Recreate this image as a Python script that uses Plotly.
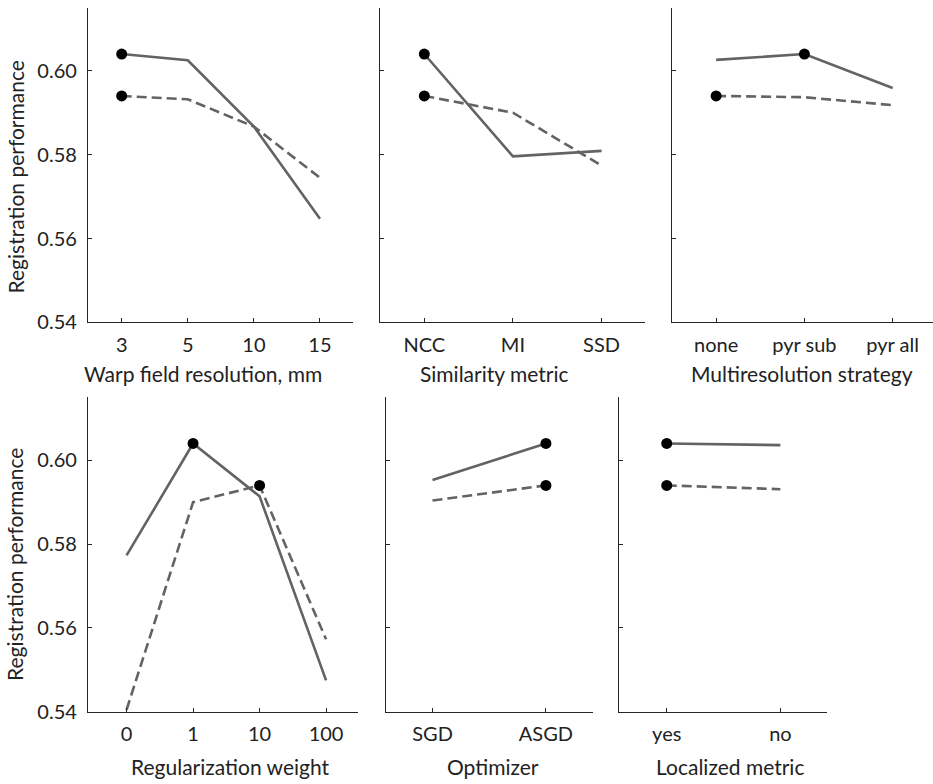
import plotly.graph_objects as go

# ---- data -------------------------------------------------------------
warp_labels = ["3", "5", "10", "15"]
warp_solid = [0.604, 0.6025, 0.5867, 0.5647]
warp_dashed = [0.594, 0.5932, 0.5867, 0.5745]

sim_labels = ["NCC", "MI", "SSD"]
sim_solid = [0.604, 0.5796, 0.5809]
sim_dashed = [0.594, 0.5900, 0.5774]

multires_labels = ["none", "pyr sub", "pyr all"]
multires_solid = [0.6026, 0.604, 0.5959]
multires_dashed = [0.594, 0.5937, 0.5918]

reg_labels = ["0", "1", "10", "100"]
reg_solid = [0.5773, 0.604, 0.5914, 0.5475]
reg_dashed = [0.5405, 0.5900, 0.594, 0.5573]

opt_labels = ["SGD", "ASGD"]
opt_solid = [0.5953, 0.604]
opt_dashed = [0.5904, 0.594]

local_labels = ["yes", "no"]
local_solid = [0.604, 0.6036]
local_dashed = [0.594, 0.5931]

x_titles = ["Warp field resolution, mm", "Similarity metric", "Multiresolution strategy",
            "Regularization weight", "Optimizer", "Localized metric"]
y_title = "Registration performance"
y_ticks = [0.54, 0.56, 0.58, 0.60]

panels = [
    (warp_labels, warp_solid, warp_dashed),
    (sim_labels, sim_solid, sim_dashed),
    (multires_labels, multires_solid, multires_dashed),
    (reg_labels, reg_solid, reg_dashed),
    (opt_labels, opt_solid, opt_dashed),
    (local_labels, local_solid, local_dashed),
]

# ---- layout geometry (pixels) ----------------------------------------
W, H = 933, 784
# (left, right, top, bottom) of each plotting area, x range,
# horizontal centre of the x title, vertical centre of the x title
boxes = [
    (88, 353, 8, 327, [-0.51, 3.5], 203, 379),
    (380, 645, 8, 327, [-0.5, 2.49], 494, 379),
    (672, 933, 8, 327, [-0.5, 2.457], 802, 379),
    (88, 358, 403, 722, [-0.58, 3.48], 230, 777),
    (386, 593, 403, 722, [-0.41, 1.415], 493, 777),
    (619, 827, 403, 722, [-0.42, 1.41], 730, 777),
]
# vertical centre of the y title for each row
y_title_centres = {1: 180, 4: 573}

LINE = "#636363"
AXIS = "#262626"
TEXT = "#222222"
FONT = "Lato"

fig = go.Figure()
layout = dict(
    width=W, height=H,
    margin=dict(l=0, r=0, t=0, b=0),
    paper_bgcolor="white", plot_bgcolor="white",
    showlegend=False,
    font=dict(family=FONT, size=20, color=TEXT),
)
annotations = []

for i, ((labels, solid, dashed), (l, r, t, b, xr, tx, ty)) in enumerate(zip(panels, boxes)):
    n = i + 1
    xa = "x" if n == 1 else f"x{n}"
    ya = "y" if n == 1 else f"y{n}"

    fig.add_trace(go.Scatter(x=labels, y=solid, mode="lines", xaxis=xa, yaxis=ya,
                             line=dict(color=LINE, width=2.6)))
    fig.add_trace(go.Scatter(x=labels, y=dashed, mode="lines", xaxis=xa, yaxis=ya,
                             line=dict(color=LINE, width=2.6, dash="10px,5px")))
    # black dot at the best value of each series
    for series in (solid, dashed):
        k = max(range(len(series)), key=lambda j: series[j])
        fig.add_trace(go.Scatter(x=[labels[k]], y=[series[k]], mode="markers",
                                 xaxis=xa, yaxis=ya,
                                 marker=dict(color="black", size=11)))

    layout[f"xaxis{'' if n == 1 else n}"] = dict(
        domain=[l / W, r / W], anchor=ya, type="category",
        categoryorder="array", categoryarray=labels,
        range=xr, showline=True, linecolor=AXIS, linewidth=1.2,
        ticks="inside", ticklen=4, tickcolor=AXIS, tickwidth=1,
        showgrid=False, zeroline=False, fixedrange=True,
        tickfont=dict(family=FONT, size=20, color=TEXT), ticklabelstandoff=4,
    )
    layout[f"yaxis{'' if n == 1 else n}"] = dict(
        domain=[1 - b / H, 1 - t / H], anchor=xa,
        range=[0.54, 0.615], tickvals=y_ticks, tickformat=".2f",
        showticklabels=(n in (1, 4)),
        showline=True, linecolor=AXIS, linewidth=1.2,
        ticks="inside", ticklen=4, tickcolor=AXIS, tickwidth=1,
        showgrid=False, zeroline=False, fixedrange=True,
        tickfont=dict(family=FONT, size=20, color=TEXT), ticklabelstandoff=6,
    )

    # x-axis title under each panel
    annotations.append(dict(
        text=x_titles[i], xref="paper", yref="paper",
        x=tx / W, y=1 - ty / H,
        xanchor="center", yanchor="middle", showarrow=False,
        font=dict(family=FONT, size=21, color=TEXT),
    ))
    if n in y_title_centres:
        annotations.append(dict(
            text=y_title, xref="paper", yref="paper",
            x=15 / W, y=1 - y_title_centres[n] / H, textangle=-90,
            xanchor="center", yanchor="middle", showarrow=False,
            font=dict(family=FONT, size=21, color=TEXT),
        ))

layout["annotations"] = annotations
fig.update_layout(**layout)
fig.write_html("out.html")
